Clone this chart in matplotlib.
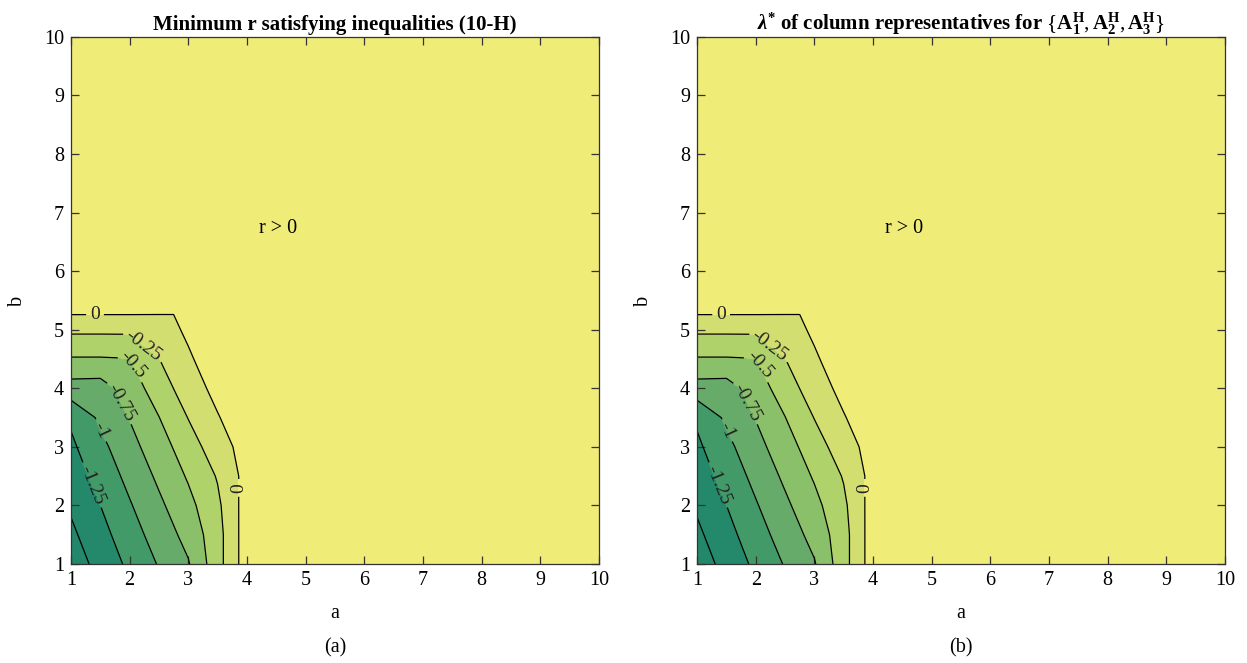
import matplotlib
matplotlib.use("Agg")
import matplotlib.pyplot as plt
import numpy as np
from matplotlib.colors import ListedColormap, BoundaryNorm

plt.rcParams['font.family'] = ['Liberation Serif', 'DejaVu Serif']
plt.rcParams['mathtext.fontset'] = 'custom'
plt.rcParams['mathtext.rm'] = 'Liberation Serif'
plt.rcParams['mathtext.it'] = 'Liberation Serif:italic'
plt.rcParams['mathtext.bf'] = 'Liberation Serif:bold'
plt.rcParams['mathtext.bfit'] = 'Liberation Serif:bold:italic'
plt.rcParams['contour.negative_linestyle'] = 'solid'

# grid (a along x, b along y)
a_grid = [1.0, 1.5, 2.0, 2.5, 2.75, 3.0, 3.5, 4.0, 10.0]
b_grid = [1.0, 1.5, 2.0, 2.5, 3.0, 3.5, 4.0, 4.5, 5.0, 5.5, 10.0]

# minimum r (rows: b, columns: a)
r_min = [
    [-1.630, -1.420, -1.197, -0.982, -0.872, -0.770, -0.343, 0.133, 1.0],
    [-1.550, -1.335, -1.109, -0.890, -0.781, -0.668, -0.343, 0.133, 1.0],
    [-1.466, -1.251, -1.022, -0.798, -0.686, -0.573, -0.300, 0.117, 1.0],
    [-1.382, -1.158, -0.930, -0.703, -0.589, -0.473, -0.231, 0.090, 1.0],
    [-1.297, -1.066, -0.836, -0.604, -0.489, -0.357, -0.125, 0.114, 1.0],
    [-1.210, -0.955, -0.740, -0.505, -0.368, -0.243, -0.019, 0.200, 1.0],
    [-0.856, -0.868, -0.623, -0.380, -0.248, -0.143, 0.086, 0.250, 1.0],
    [-0.521, -0.521, -0.507, -0.254, -0.150, -0.044, 0.190, 0.300, 1.0],
    [-0.203, -0.203, -0.203, -0.088, -0.051, 0.056, 0.300, 0.350, 1.0],
    [0.190, 0.190, 0.190, 0.081, 0.047, 0.155, 0.400, 0.400, 1.0],
    [1.0, 1.0, 1.0, 1.0, 1.0, 1.0, 1.0, 1.0, 1.0],
]

# lambda* (panel b)
lambda_star = [
    [-1.630, -1.420, -1.197, -0.982, -0.872, -0.770, -0.343, 0.133, 1.0],
    [-1.550, -1.335, -1.109, -0.890, -0.781, -0.668, -0.343, 0.133, 1.0],
    [-1.466, -1.251, -1.022, -0.798, -0.686, -0.573, -0.300, 0.117, 1.0],
    [-1.382, -1.158, -0.930, -0.703, -0.589, -0.473, -0.231, 0.090, 1.0],
    [-1.297, -1.066, -0.836, -0.604, -0.489, -0.357, -0.125, 0.114, 1.0],
    [-1.210, -0.955, -0.740, -0.505, -0.368, -0.243, -0.019, 0.200, 1.0],
    [-0.856, -0.868, -0.623, -0.380, -0.248, -0.143, 0.086, 0.250, 1.0],
    [-0.521, -0.521, -0.507, -0.254, -0.150, -0.044, 0.190, 0.300, 1.0],
    [-0.203, -0.203, -0.203, -0.088, -0.051, 0.056, 0.300, 0.350, 1.0],
    [0.190, 0.190, 0.190, 0.081, 0.047, 0.155, 0.400, 0.400, 1.0],
    [1.0, 1.0, 1.0, 1.0, 1.0, 1.0, 1.0, 1.0, 1.0],
]

fill_levels = [-2.0, -1.5, -1.25, -1.0, -0.75, -0.5, -0.25, 0.0, 2.0]
plain_levels = [-1.5]
labeled_levels = [-1.25, -1.0, -0.75, -0.5, -0.25, 0.0]
band_colors = ['#23876b', '#24886b', '#429a69', '#66ab6a',
               '#8bc06a', '#afd26a', '#d3de70', '#efec78']
label_fmt = {-1.25: '-1.25', -1.0: '-1', -0.75: '-0.75',
             -0.5: '-0.5', -0.25: '-0.25', 0.0: '0'}
label_pos = [(1.41, 5.28), (2.31, 4.82), (2.06, 4.40), (1.83, 3.75),
             (1.53, 3.29), (1.36, 2.35), (3.87, 2.30)]

titles = ['Minimum r satisfying inequalities (10-H)',
          r'$\mathbfit{\lambda}^{\mathbf{*}}$ of column representatives for '
          r'$\{\mathbf{A}_\mathbf{1}^\mathbf{H}, \mathbf{A}_\mathbf{2}^\mathbf{H}, '
          r'\mathbf{A}_\mathbf{3}^\mathbf{H}\}$']
panel_tags = ['(a)', '(b)']
ticks = [1, 2, 3, 4, 5, 6, 7, 8, 9, 10]

fig = plt.figure(figsize=(12.47, 6.63), dpi=100)
ax_rects = [[0.0569, 0.1493, 0.4234, 0.795], [0.5590, 0.1493, 0.4234, 0.795]]

cmap = ListedColormap(band_colors)
norm = BoundaryNorm(fill_levels, cmap.N)

for k, Z in enumerate([r_min, lambda_star]):
    ax = fig.add_axes(ax_rects[k])
    Zarr = np.array(Z)
    ax.contourf(a_grid, b_grid, Zarr, levels=fill_levels, cmap=cmap, norm=norm)
    ax.contour(a_grid, b_grid, Zarr, levels=plain_levels, colors='black',
               linewidths=0.9, linestyles='solid')
    cs = ax.contour(a_grid, b_grid, Zarr, levels=labeled_levels, colors='black',
                    linewidths=0.9, linestyles='solid')
    ax.clabel(cs, fmt=label_fmt, manual=label_pos,
              inline=True, inline_spacing=4, fontsize=14, colors='#222222')
    ax.set_xlim(1, 10)
    ax.set_ylim(1, 10)
    ax.set_xticks(ticks)
    ax.set_yticks(ticks)
    ax.tick_params(direction='in', top=True, right=True, length=5.5,
                   width=0.9, labelsize=14.5, color='#333333', pad=5)
    for s in ax.spines.values():
        s.set_color('#333333')
        s.set_linewidth(0.9)
    ax.set_xlabel('a', fontsize=14.5, labelpad=10)
    ax.set_ylabel('b', fontsize=14.5, labelpad=12)
    ax.set_title(titles[k], fontsize=15, fontweight='bold', pad=5)
    ax.text(4.53, 6.73, 'r > 0', fontsize=14.5, ha='center', va='center')
    ax.text(0.5, -0.16, panel_tags[k], transform=ax.transAxes,
            ha='center', va='center', fontsize=14.5)

fig.savefig('out.png', dpi=100)
